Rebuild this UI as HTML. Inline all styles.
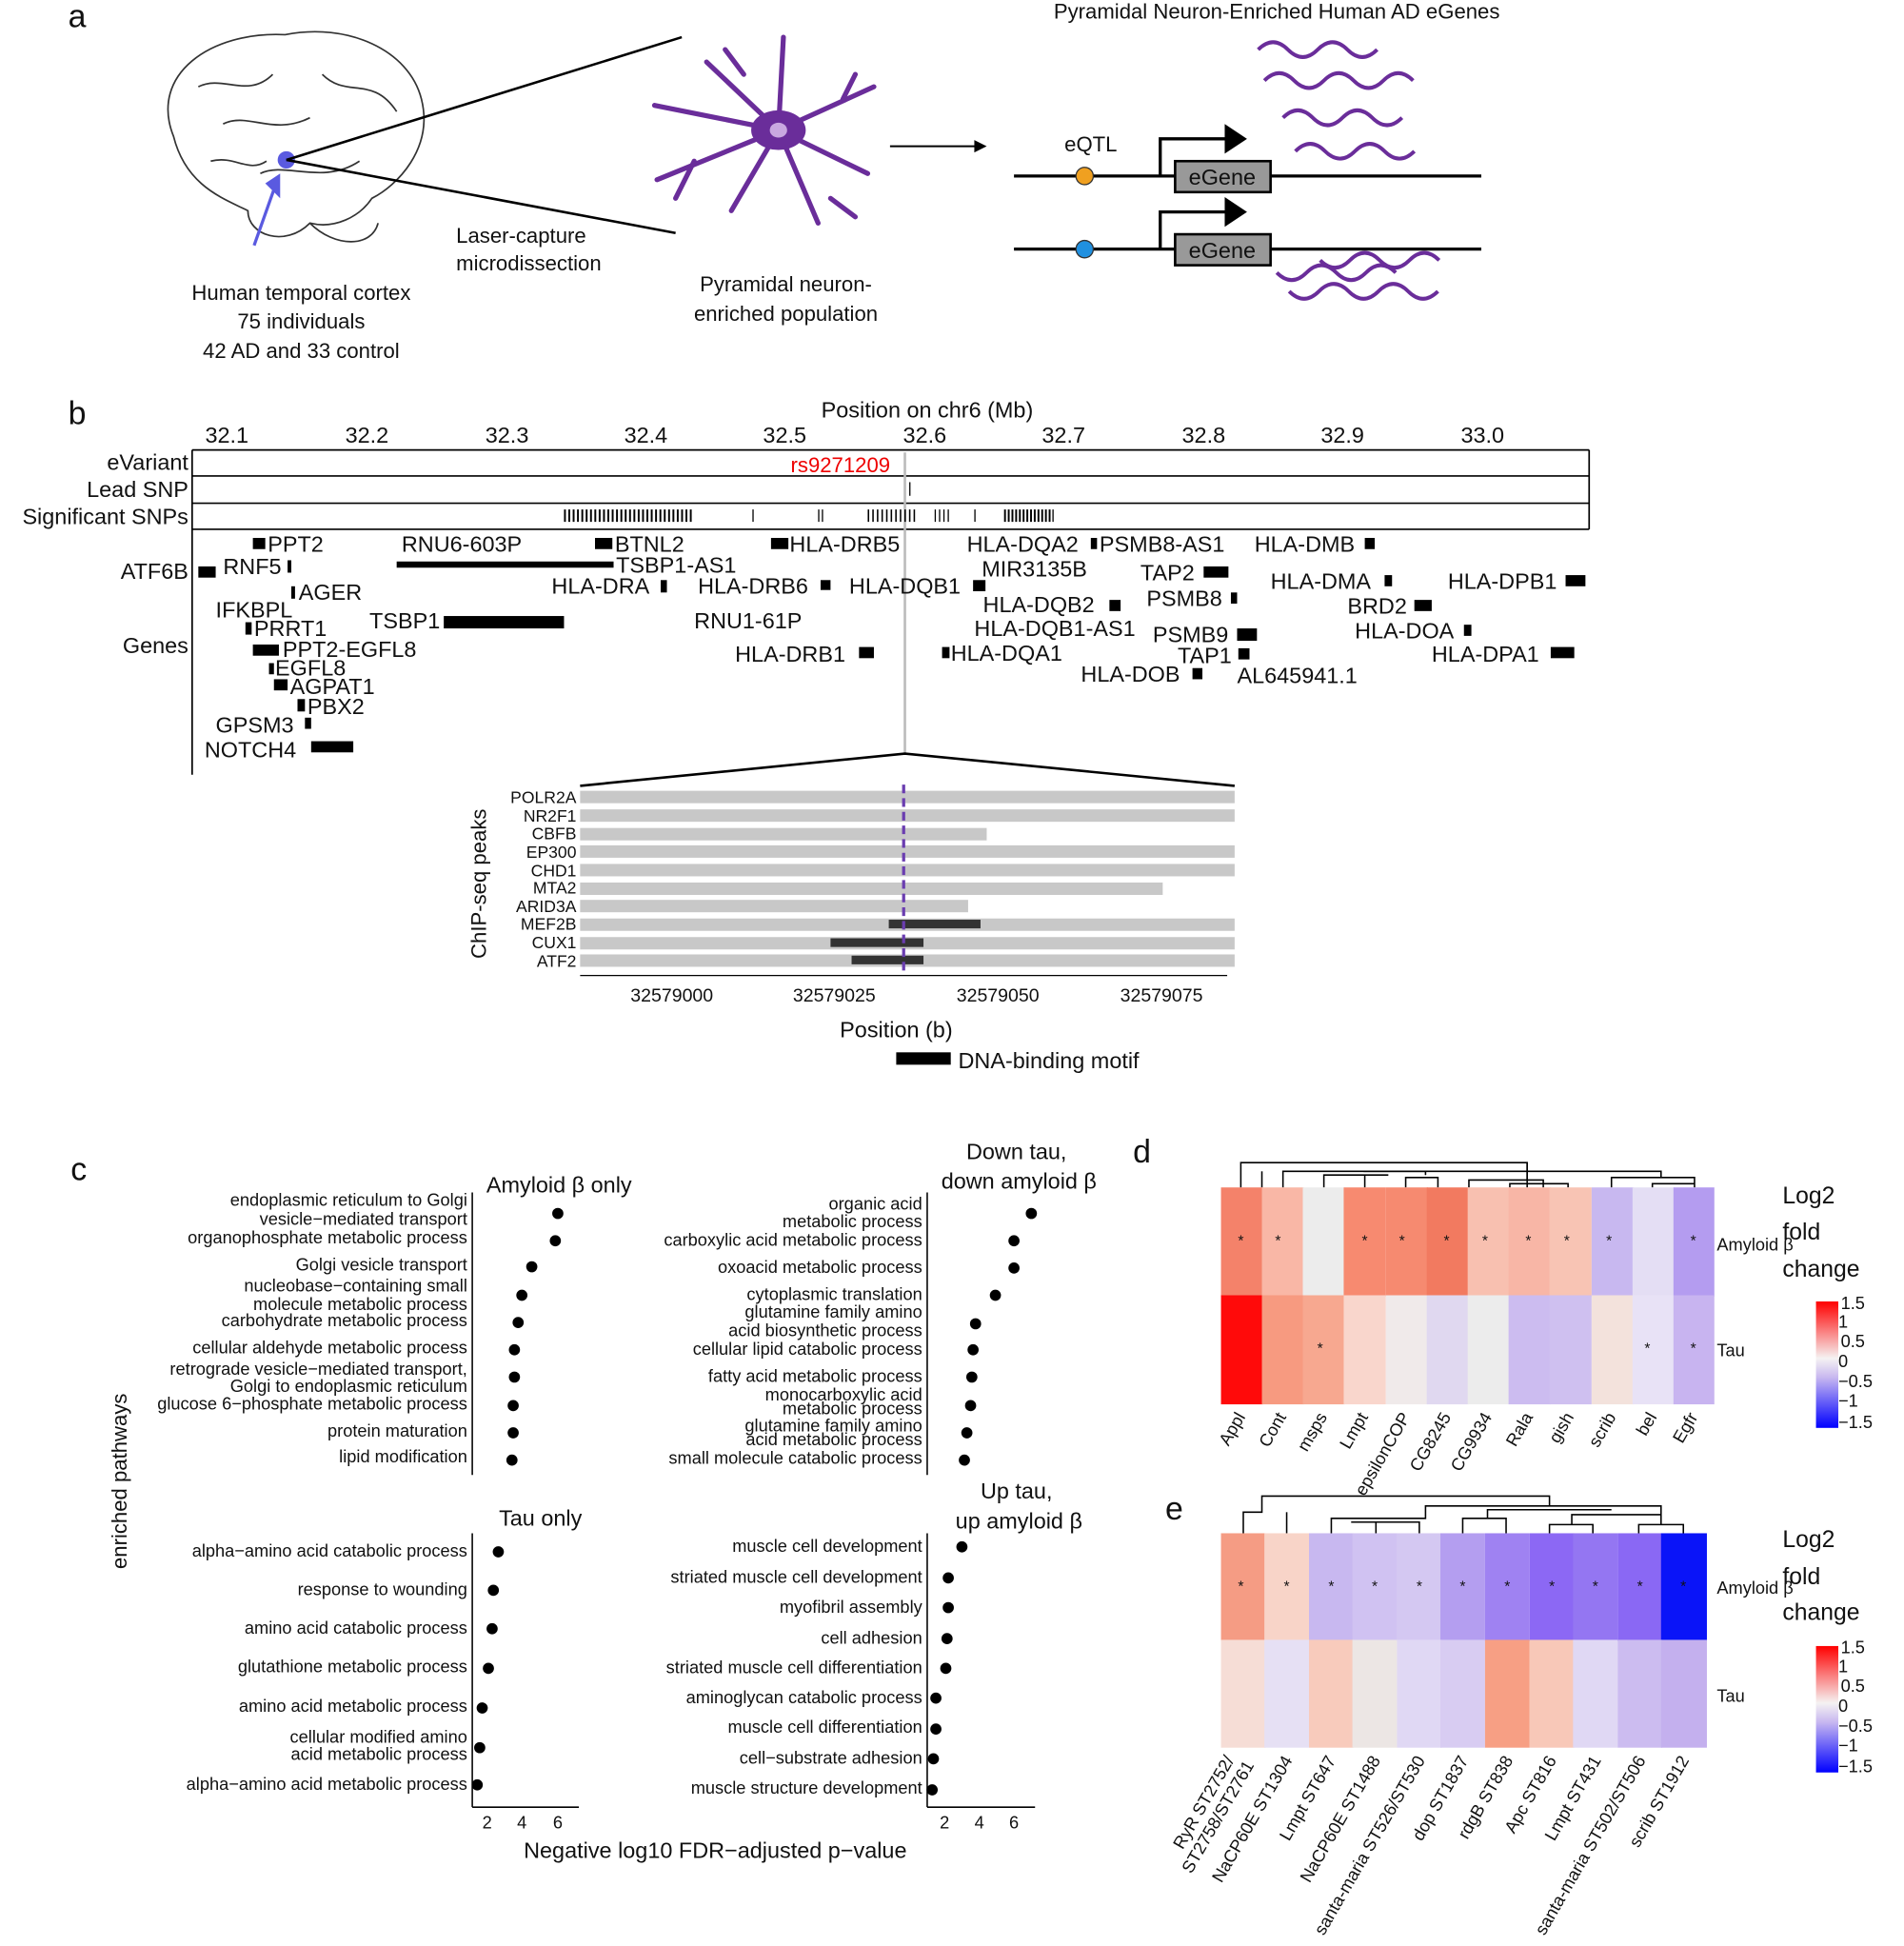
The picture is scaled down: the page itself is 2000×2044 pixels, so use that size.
<!DOCTYPE html>
<html><head><meta charset="utf-8"><style>
html,body{margin:0;padding:0;background:#fff}
svg{display:block}
text{font-family:"Liberation Sans",Arial,sans-serif;fill:#111}
.g{font-size:18px}
.c{font-size:14px;text-anchor:end}
.t{font-size:17px;text-anchor:middle}
.ax{font-size:14px;text-anchor:middle}
</style></head><body>
<svg width="2000" height="2044" viewBox="0 0 1536 1570" preserveAspectRatio="none" xmlns="http://www.w3.org/2000/svg">
<!-- panel a -->
<text x="55" y="22" style="font-size:26px">a</text>
<g fill="none" stroke="#333" stroke-width="1.3">
<path d="M140,110 C120,60 170,25 230,28 C280,18 330,40 340,80 C350,120 320,150 300,160 C290,175 270,185 250,180 C230,200 200,190 200,170 C180,160 150,150 140,110Z"/>
<path d="M250,180 C270,200 300,200 305,180"/>
<path d="M160,70 C180,60 200,80 220,60 M180,100 C200,90 220,110 250,95 M260,60 C280,80 300,60 320,90 M210,140 C230,130 260,150 290,130 M170,130 C190,125 200,140 215,130"/>
</g>
<circle cx="231" cy="129" r="7" fill="#5a5ae0"/>
<line x1="205" y1="198" x2="222" y2="150" stroke="#5a5ae0" stroke-width="2.5"/>
<polygon points="214,148 226,140 226,160" fill="#5a5ae0"/>
<line x1="231" y1="129" x2="550" y2="30" stroke="#000" stroke-width="2"/>
<line x1="231" y1="129" x2="545" y2="188" stroke="#000" stroke-width="2"/>
<text x="243" y="242" class="t">Human temporal cortex</text>
<text x="243" y="265" class="t">75 individuals</text>
<text x="243" y="289" class="t">42 AD and 33 control</text>
<text x="368" y="196" style="font-size:17px">Laser-capture</text>
<text x="368" y="218" style="font-size:17px">microdissection</text>
<g stroke="#6a2d9a" stroke-width="4" fill="none" stroke-linecap="round">
<path d="M628,105 L632,30 M628,105 L705,70 M628,105 L700,140 M628,105 L660,180 M628,105 L590,170 M628,105 L530,145 M628,105 L528,85 M628,105 L570,50"/>
<path d="M600,60 L585,40 M680,80 L690,60 M560,130 L545,160 M670,160 L690,175"/>
</g>
<ellipse cx="628" cy="105" rx="22" ry="16" fill="#6a2d9a"/>
<ellipse cx="628" cy="105" rx="7" ry="6" fill="#c9a8e0"/>
<text x="634" y="235" class="t">Pyramidal neuron-</text>
<text x="634" y="259" class="t">enriched population</text>
<line x1="718" y1="118" x2="788" y2="118" stroke="#000" stroke-width="1.5"/>
<polygon points="786,113 796,118 786,123" fill="#000"/>
<text x="1030" y="15" class="t">Pyramidal Neuron-Enriched Human AD eGenes</text>
<g stroke="#000" stroke-width="2.5" fill="none">
<line x1="818" y1="142" x2="1195" y2="142"/><line x1="818" y1="201" x2="1195" y2="201"/>
<path d="M936,142 V112 H990"/><path d="M936,201 V171 H990"/>
</g>
<polygon points="988,100 1006,112 988,124" fill="#000"/>
<polygon points="988,159 1006,171 988,183" fill="#000"/>
<rect x="948" y="130" width="77" height="25" fill="#999" stroke="#000" stroke-width="2"/>
<rect x="948" y="189" width="77" height="25" fill="#999" stroke="#000" stroke-width="2"/>
<text x="986" y="149" class="t" style="font-size:18px">eGene</text>
<text x="986" y="208" class="t" style="font-size:18px">eGene</text>
<text x="880" y="122" class="t">eQTL</text>
<circle cx="875" cy="142" r="7" fill="#f0a020" stroke="#333"/>
<circle cx="875" cy="201" r="7" fill="#2090e0" stroke="#333"/>
<g stroke="#6a2d9a" stroke-width="3" fill="none">
<path d="M1015,40 q12,-12 24,0 t24,0 t24,0 t24,0"/>
<path d="M1020,65 q12,-12 24,0 t24,0 t24,0 t24,0 t24,0"/>
<path d="M1035,95 q12,-12 24,0 t24,0 t24,0 t24,0"/>
<path d="M1045,122 q12,-12 24,0 t24,0 t24,0 t24,0"/>
<path d="M1030,220 q12,12 24,0 t24,0 t24,0 t24,0"/>
<path d="M1040,235 q12,12 24,0 t24,0 t24,0 t24,0 t24,0"/>
<path d="M1065,210 q12,12 24,0 t24,0 t24,0 t24,0"/>
</g>
<!-- panel b -->
<text x="55" y="342" style="font-size:26px">b</text>
<text x="748" y="337" class="t" style="font-size:18px">Position on chr6 (Mb)</text>
<g class="t" style="font-size:18px">
<text x="183" y="357" text-anchor="middle">32.1</text><text x="296" y="357" text-anchor="middle">32.2</text><text x="409" y="357" text-anchor="middle">32.3</text><text x="521" y="357" text-anchor="middle">32.4</text><text x="633" y="357" text-anchor="middle">32.5</text><text x="746" y="357" text-anchor="middle">32.6</text><text x="858" y="357" text-anchor="middle">32.7</text><text x="971" y="357" text-anchor="middle">32.8</text><text x="1083" y="357" text-anchor="middle">32.9</text><text x="1196" y="357" text-anchor="middle">33.0</text>
</g>
<g stroke="#000" stroke-width="1.3">
<line x1="155" y1="363" x2="155" y2="625"/>
<line x1="155" y1="363" x2="1282" y2="363"/><line x1="155" y1="384" x2="1282" y2="384"/><line x1="155" y1="406" x2="1282" y2="406"/><line x1="155" y1="427" x2="1282" y2="427"/>
<line x1="1282" y1="363" x2="1282" y2="427"/>
</g>
<line x1="730" y1="365" x2="730" y2="608" stroke="#bbb" stroke-width="2"/>
<text x="678" y="381" class="t" style="font-size:17px;fill:#e00">rs9271209</text>
<line x1="734" y1="389" x2="734" y2="400" stroke="#000"/>
<g style="font-size:18px;text-anchor:end">
<text x="152" y="379">eVariant</text><text x="152" y="401">Lead SNP</text><text x="152" y="423">Significant SNPs</text><text x="152" y="467">ATF6B</text><text x="152" y="527">Genes</text>
</g>
<g stroke="#000" stroke-width="10">
<line x1="455" y1="416" x2="558" y2="416" stroke-dasharray="1.5 2"/>
<line x1="607" y1="416" x2="609" y2="416" stroke-dasharray="1 2"/>
<line x1="660" y1="416" x2="665" y2="416" stroke-dasharray="1 2"/>
<line x1="700" y1="416" x2="740" y2="416" stroke-dasharray="1.2 2.5"/>
<line x1="754" y1="416" x2="766" y2="416" stroke-dasharray="1 2.5"/>
<line x1="786" y1="416" x2="788" y2="416" stroke-dasharray="1 2"/>
<line x1="810" y1="416" x2="850" y2="416" stroke-dasharray="1.5 1.5"/>
</g>
<g fill="#000">
<rect x="204" y="434" width="10" height="9"/><rect x="232" y="452" width="3" height="10"/><rect x="160" y="457" width="14" height="9"/><rect x="235" y="473" width="3" height="10"/><rect x="198" y="502" width="5" height="10"/><rect x="204" y="520" width="21" height="9"/><rect x="217" y="535" width="4" height="9"/><rect x="221" y="548" width="11" height="9"/><rect x="240" y="564" width="6" height="10"/><rect x="246" y="579" width="5" height="9"/><rect x="251" y="598" width="34" height="9"/>
<rect x="320" y="453" width="175" height="5"/><rect x="480" y="434" width="14" height="9"/><rect x="533" y="468" width="5" height="10"/><rect x="358" y="497" width="97" height="10"/>
<rect x="622" y="434" width="14" height="9"/><rect x="662" y="468" width="8" height="8"/><rect x="693" y="522" width="12" height="9"/><rect x="785" y="468" width="10" height="9"/>
<rect x="880" y="434" width="5" height="9"/><rect x="895" y="484" width="9" height="9"/><rect x="760" y="522" width="6" height="9"/><rect x="998" y="507" width="16" height="10"/><rect x="971" y="457" width="20" height="9"/><rect x="993" y="478" width="5" height="9"/><rect x="999" y="523" width="9" height="9"/><rect x="962" y="539" width="8" height="9"/>
<rect x="1101" y="434" width="8" height="9"/><rect x="1117" y="464" width="6" height="9"/><rect x="1141" y="484" width="14" height="9"/><rect x="1181" y="504" width="6" height="9"/><rect x="1263" y="464" width="16" height="9"/><rect x="1251" y="522" width="19" height="9"/>
</g>
<g class="g">
<text x="216" y="445">PPT2</text><text x="180" y="463">RNF5</text><text x="241" y="484">AGER</text><text x="174" y="498">IFKBPL</text><text x="205" y="513">PRRT1</text><text x="228" y="530">PPT2-EGFL8</text><text x="222" y="545">EGFL8</text><text x="234" y="560">AGPAT1</text><text x="248" y="576">PBX2</text><text x="174" y="591">GPSM3</text><text x="165" y="611">NOTCH4</text>
<text x="324" y="445">RNU6-603P</text><text x="496" y="445">BTNL2</text><text x="497" y="462">TSBP1-AS1</text><text x="445" y="479">HLA-DRA</text><text x="298" y="507">TSBP1</text>
<text x="637" y="445">HLA-DRB5</text><text x="563" y="479">HLA-DRB6</text><text x="560" y="507">RNU1-61P</text><text x="593" y="534">HLA-DRB1</text><text x="685" y="479">HLA-DQB1</text>
<text x="780" y="445">HLA-DQA2</text><text x="887" y="445">PSMB8-AS1</text><text x="792" y="465">MIR3135B</text><text x="793" y="494">HLA-DQB2</text><text x="786" y="513">HLA-DQB1-AS1</text><text x="767" y="533">HLA-DQA1</text><text x="930" y="518">PSMB9</text><text x="920" y="468">TAP2</text><text x="925" y="489">PSMB8</text><text x="950" y="535">TAP1</text><text x="872" y="550">HLA-DOB</text><text x="998" y="551">AL645941.1</text>
<text x="1012" y="445">HLA-DMB</text><text x="1025" y="475">HLA-DMA</text><text x="1087" y="495">BRD2</text><text x="1093" y="515">HLA-DOA</text><text x="1168" y="475">HLA-DPB1</text><text x="1155" y="534">HLA-DPA1</text>
</g>
<polyline points="468,634 730,608 996,634" fill="none" stroke="#000" stroke-width="2"/>
<g fill="#c8c8c8">
<rect x="468" y="638" width="528" height="10"/><rect x="468" y="653" width="528" height="10"/><rect x="468" y="668" width="328" height="10"/><rect x="468" y="682" width="528" height="10"/><rect x="468" y="697" width="528" height="10"/><rect x="468" y="712" width="470" height="10"/><rect x="468" y="726" width="313" height="10"/><rect x="468" y="741" width="528" height="10"/><rect x="468" y="756" width="528" height="10"/><rect x="468" y="770" width="528" height="10"/>
</g>
<g fill="#333"><rect x="717" y="742" width="74" height="7"/><rect x="670" y="757" width="75" height="7"/><rect x="687" y="771" width="58" height="7"/></g>
<line x1="729" y1="633" x2="729" y2="785" stroke="#6a3db0" stroke-width="2.5" stroke-dasharray="7 4"/>
<g style="font-size:13.5px;text-anchor:end">
<text x="465" y="648">POLR2A</text><text x="465" y="663">NR2F1</text><text x="465" y="677">CBFB</text><text x="465" y="692">EP300</text><text x="465" y="707">CHD1</text><text x="465" y="721">MTA2</text><text x="465" y="736">ARID3A</text><text x="465" y="750">MEF2B</text><text x="465" y="765">CUX1</text><text x="465" y="780">ATF2</text>
</g>
<text transform="translate(392,713) rotate(-90)" class="t">ChIP-seq peaks</text>
<line x1="468" y1="787" x2="990" y2="787" stroke="#000"/>
<g class="ax" style="font-size:15px"><text x="542" y="808">32579000</text><text x="673" y="808">32579025</text><text x="805" y="808">32579050</text><text x="937" y="808">32579075</text></g>
<text x="723" y="837" class="t" style="font-size:18px">Position (b)</text>
<rect x="723" y="849" width="44" height="10" fill="#000"/>
<text x="773" y="862" style="font-size:18px">DNA-binding motif</text>
<!-- panel c -->
<text x="57" y="952" style="font-size:26px">c</text>
<text transform="translate(102,1195) rotate(-90)" class="t">enriched pathways</text>
<g stroke="#000" stroke-width="1.2">
<line x1="381" y1="962" x2="381" y2="1190"/><line x1="748" y1="962" x2="748" y2="1190"/>
<line x1="381" y1="1237" x2="381" y2="1458"/><line x1="748" y1="1237" x2="748" y2="1458"/>
<line x1="381" y1="1458" x2="467" y2="1458"/><line x1="748" y1="1458" x2="835" y2="1458"/>
</g>
<g class="ax"><text x="393" y="1475">2</text><text x="421" y="1475">4</text><text x="450" y="1475">6</text><text x="762" y="1475">2</text><text x="790" y="1475">4</text><text x="818" y="1475">6</text></g>
<text x="577" y="1499" class="t" style="font-size:18px">Negative log10 FDR−adjusted p−value</text>
<text x="451" y="962" class="t" style="font-size:18px">Amyloid β only</text>
<text x="436" y="1231" class="t" style="font-size:18px">Tau only</text>
<text x="820" y="935" class="t" style="font-size:18px">Down tau,</text><text x="822" y="959" class="t" style="font-size:18px">down amyloid β</text>
<text x="820" y="1209" class="t" style="font-size:18px">Up tau,</text><text x="822" y="1233" class="t" style="font-size:18px">up amyloid β</text>
<g class="c">
<text x="377" y="973">endoplasmic reticulum to Golgi</text><text x="377" y="988">vesicle−mediated transport</text><text x="377" y="1003">organophosphate metabolic process</text><text x="377" y="1025">Golgi vesicle transport</text><text x="377" y="1042">nucleobase−containing small</text><text x="377" y="1057">molecule metabolic process</text><text x="377" y="1070">carbohydrate metabolic process</text><text x="377" y="1092">cellular aldehyde metabolic process</text><text x="377" y="1109">retrograde vesicle−mediated transport,</text><text x="377" y="1123">Golgi to endoplasmic reticulum</text><text x="377" y="1137">glucose 6−phosphate metabolic process</text><text x="377" y="1159">protein maturation</text><text x="377" y="1180">lipid modification</text>
<text x="377" y="1256">alpha−amino acid catabolic process</text><text x="377" y="1287">response to wounding</text><text x="377" y="1318">amino acid catabolic process</text><text x="377" y="1349">glutathione metabolic process</text><text x="377" y="1381">amino acid metabolic process</text><text x="377" y="1406">cellular modified amino</text><text x="377" y="1420">acid metabolic process</text><text x="377" y="1444">alpha−amino acid metabolic process</text>
<text x="744" y="976">organic acid</text><text x="744" y="990">metabolic process</text><text x="744" y="1005">carboxylic acid metabolic process</text><text x="744" y="1027">oxoacid metabolic process</text><text x="744" y="1049">cytoplasmic translation</text><text x="744" y="1063">glutamine family amino</text><text x="744" y="1078">acid biosynthetic process</text><text x="744" y="1093">cellular lipid catabolic process</text><text x="744" y="1115">fatty acid metabolic process</text><text x="744" y="1130">monocarboxylic acid</text><text x="744" y="1141">metabolic process</text><text x="744" y="1155">glutamine family amino</text><text x="744" y="1166">acid metabolic process</text><text x="744" y="1181">small molecule catabolic process</text>
<text x="744" y="1252">muscle cell development</text><text x="744" y="1277">striated muscle cell development</text><text x="744" y="1301">myofibril assembly</text><text x="744" y="1326">cell adhesion</text><text x="744" y="1350">striated muscle cell differentiation</text><text x="744" y="1374">aminoglycan catabolic process</text><text x="744" y="1398">muscle cell differentiation</text><text x="744" y="1423">cell−substrate adhesion</text><text x="744" y="1447">muscle structure development</text>
</g>
<g fill="#000">
<circle cx="450" cy="979" r="4.5"/><circle cx="448" cy="1001" r="4.5"/><circle cx="429" cy="1022" r="4.5"/><circle cx="421" cy="1045" r="4.5"/><circle cx="418" cy="1067" r="4.5"/><circle cx="415" cy="1089" r="4.5"/><circle cx="415" cy="1111" r="4.5"/><circle cx="414" cy="1134" r="4.5"/><circle cx="414" cy="1156" r="4.5"/><circle cx="413" cy="1178" r="4.5"/>
<circle cx="402" cy="1252" r="4.5"/><circle cx="398" cy="1283" r="4.5"/><circle cx="397" cy="1314" r="4.5"/><circle cx="394" cy="1346" r="4.5"/><circle cx="389" cy="1378" r="4.5"/><circle cx="387" cy="1410" r="4.5"/><circle cx="385" cy="1440" r="4.5"/>
<circle cx="832" cy="979" r="4.5"/><circle cx="818" cy="1001" r="4.5"/><circle cx="818" cy="1023" r="4.5"/><circle cx="803" cy="1045" r="4.5"/><circle cx="787" cy="1068" r="4.5"/><circle cx="785" cy="1089" r="4.5"/><circle cx="784" cy="1111" r="4.5"/><circle cx="783" cy="1134" r="4.5"/><circle cx="780" cy="1156" r="4.5"/><circle cx="778" cy="1178" r="4.5"/>
<circle cx="776" cy="1248" r="4.5"/><circle cx="765" cy="1273" r="4.5"/><circle cx="765" cy="1297" r="4.5"/><circle cx="764" cy="1322" r="4.5"/><circle cx="763" cy="1346" r="4.5"/><circle cx="755" cy="1370" r="4.5"/><circle cx="755" cy="1395" r="4.5"/><circle cx="753" cy="1419" r="4.5"/><circle cx="752" cy="1444" r="4.5"/>
</g>
<!-- panel d -->
<text x="914" y="938" style="font-size:26px">d</text>
<g fill="none" stroke="#000" stroke-width="1.2">
<path d="M1001,958 V938 H1232 V958"/><path d="M1035,958 V945 H1150"/><path d="M1068,958 V948 H1120 M1101,958 V948 M1134,958 V950 H1160 V958 M1185,958 V952 H1245 V958 M1218,958 V955 H1265 V958 M1300,958 V950 H1367 V958 M1333,958 V955 H1367"/>
<path d="M1018,945 V958"/><path d="M1150,945 V948 M1232,938 V952 M1245,952 M1340,950 V945 H1100"/>
</g>
<g>
<rect x="985" y="958" width="34" height="88" fill="#f4826a"/><rect x="1018" y="958" width="34" height="88" fill="#f9b7a6"/><rect x="1051" y="958" width="34" height="88" fill="#ececec"/><rect x="1084" y="958" width="34" height="88" fill="#f78a70"/><rect x="1118" y="958" width="34" height="88" fill="#f68a70"/><rect x="1151" y="958" width="34" height="88" fill="#f27a60"/><rect x="1184" y="958" width="34" height="88" fill="#f8c0b0"/><rect x="1217" y="958" width="34" height="88" fill="#f8b6a6"/><rect x="1250" y="958" width="34" height="88" fill="#f8c4b4"/><rect x="1284" y="958" width="34" height="88" fill="#c8b8f0"/><rect x="1317" y="958" width="34" height="88" fill="#e4def4"/><rect x="1350" y="958" width="33" height="88" fill="#b49cf0"/>
<rect x="985" y="1045" width="34" height="88" fill="#ff0a0a"/><rect x="1018" y="1045" width="34" height="88" fill="#f79a80"/><rect x="1051" y="1045" width="34" height="88" fill="#f7a890"/><rect x="1084" y="1045" width="34" height="88" fill="#f9d6cc"/><rect x="1118" y="1045" width="34" height="88" fill="#f0eaea"/><rect x="1151" y="1045" width="34" height="88" fill="#e0d8f0"/><rect x="1184" y="1045" width="34" height="88" fill="#ececec"/><rect x="1217" y="1045" width="34" height="88" fill="#ccbcf0"/><rect x="1250" y="1045" width="34" height="88" fill="#cfc0f0"/><rect x="1284" y="1045" width="34" height="88" fill="#f3e2dc"/><rect x="1317" y="1045" width="34" height="88" fill="#e8e2f6"/><rect x="1350" y="1045" width="33" height="88" fill="#c8b4f0"/>
</g>
<g class="ax" style="font-size:12px">
<text x="1001" y="1005">*</text><text x="1031" y="1005">*</text><text x="1101" y="1005">*</text><text x="1131" y="1005">*</text><text x="1167" y="1005">*</text><text x="1198" y="1005">*</text><text x="1233" y="1005">*</text><text x="1264" y="1005">*</text><text x="1298" y="1005">*</text><text x="1366" y="1005">*</text>
<text x="1065" y="1092">*</text><text x="1329" y="1092">*</text><text x="1366" y="1092">*</text>
</g>
<text x="1385" y="1009" style="font-size:14px">Amyloid β</text><text x="1385" y="1094" style="font-size:14px">Tau</text>
<g style="font-size:14px;text-anchor:end">
<text transform="translate(1005,1143) rotate(-60)">Appl</text><text transform="translate(1038,1143) rotate(-60)">Cont</text><text transform="translate(1071,1143) rotate(-60)">msps</text><text transform="translate(1104,1143) rotate(-60)">Lmpt</text><text transform="translate(1138,1143) rotate(-60)">epsilonCOP</text><text transform="translate(1171,1143) rotate(-60)">CG8245</text><text transform="translate(1204,1143) rotate(-60)">CG9934</text><text transform="translate(1237,1143) rotate(-60)">Rala</text><text transform="translate(1270,1143) rotate(-60)">gish</text><text transform="translate(1304,1143) rotate(-60)">scrib</text><text transform="translate(1337,1143) rotate(-60)">bel</text><text transform="translate(1370,1143) rotate(-60)">Egfr</text>
</g>
<defs><linearGradient id="lg" x1="0" y1="0" x2="0" y2="1"><stop offset="0" stop-color="#ff0000"/><stop offset="0.45" stop-color="#f5f2f2"/><stop offset="0.6" stop-color="#c8b8f0"/><stop offset="1" stop-color="#0000ff"/></linearGradient></defs>
<text x="1438" y="971" style="font-size:19px">Log2</text><text x="1438" y="1000" style="font-size:19px">fold</text><text x="1438" y="1030" style="font-size:19px">change</text>
<rect x="1465" y="1050" width="18" height="102" fill="url(#lg)"/>
<g style="font-size:14px"><text x="1485" y="1056">1.5</text><text x="1483" y="1071">1</text><text x="1485" y="1087">0.5</text><text x="1483" y="1103">0</text><text x="1483" y="1119">−0.5</text><text x="1483" y="1135">−1</text><text x="1483" y="1152">−1.5</text></g>
<!-- panel e -->
<text x="940" y="1226" style="font-size:26px">e</text>
<g fill="none" stroke="#000" stroke-width="1.2">
<path d="M1003,1237 V1220 H1018 V1207 H1250 V1215"/><path d="M1038,1237 V1220"/><path d="M1074,1237 V1225 H1150 V1215 H1340 V1222 M1110,1237 V1228 H1090 M1145,1237 V1228 H1110 M1180,1237 V1225 H1215 V1237 M1200,1225 V1218 H1300 M1250,1237 V1230 H1285 V1237 M1268,1230 V1222 H1340 M1322,1237 V1230 H1358 V1237 M1340,1230 V1222"/>
</g>
<g>
<rect x="985" y="1237" width="36" height="87" fill="#f59c84"/><rect x="1020" y="1237" width="36" height="87" fill="#f8d4c8"/><rect x="1056" y="1237" width="36" height="87" fill="#c8b8f0"/><rect x="1091" y="1237" width="36" height="87" fill="#d0c2f2"/><rect x="1127" y="1237" width="36" height="87" fill="#d4c8f2"/><rect x="1162" y="1237" width="36" height="87" fill="#b49ef0"/><rect x="1198" y="1237" width="36" height="87" fill="#9f82f2"/><rect x="1234" y="1237" width="36" height="87" fill="#8c68f4"/><rect x="1269" y="1237" width="36" height="87" fill="#9476f2"/><rect x="1305" y="1237" width="36" height="87" fill="#8a68f4"/><rect x="1340" y="1237" width="37" height="87" fill="#0a14f8"/>
<rect x="985" y="1323" width="36" height="87" fill="#f6ddd6"/><rect x="1020" y="1323" width="36" height="87" fill="#e6e0f4"/><rect x="1056" y="1323" width="36" height="87" fill="#f8cbbc"/><rect x="1091" y="1323" width="36" height="87" fill="#ece6e4"/><rect x="1127" y="1323" width="36" height="87" fill="#e0d8f4"/><rect x="1162" y="1323" width="36" height="87" fill="#d8ccf2"/><rect x="1198" y="1323" width="36" height="87" fill="#f79f84"/><rect x="1234" y="1323" width="36" height="87" fill="#f8c8b8"/><rect x="1269" y="1323" width="36" height="87" fill="#e0d8f4"/><rect x="1305" y="1323" width="36" height="87" fill="#ccbcf0"/><rect x="1340" y="1323" width="37" height="87" fill="#c4b0ee"/>
</g>
<g class="ax" style="font-size:12px">
<text x="1001" y="1284">*</text><text x="1038" y="1284">*</text><text x="1074" y="1284">*</text><text x="1109" y="1284">*</text><text x="1145" y="1284">*</text><text x="1180" y="1284">*</text><text x="1216" y="1284">*</text><text x="1252" y="1284">*</text><text x="1287" y="1284">*</text><text x="1323" y="1284">*</text><text x="1358" y="1284">*</text>
</g>
<text x="1385" y="1286" style="font-size:14px">Amyloid β</text><text x="1385" y="1373" style="font-size:14px">Tau</text>
<g style="font-size:14px;text-anchor:end">
<text transform="translate(996,1420) rotate(-60)">RyR ST2752/</text><text transform="translate(1012,1424) rotate(-60)">ST2758/ST2761</text><text transform="translate(1043,1420) rotate(-60)">NaCP60E ST1304</text><text transform="translate(1078,1420) rotate(-60)">Lmpt ST647</text><text transform="translate(1114,1420) rotate(-60)">NaCP60E ST1488</text><text transform="translate(1150,1420) rotate(-60)">santa-maria ST526/ST530</text><text transform="translate(1185,1420) rotate(-60)">dop ST1837</text><text transform="translate(1221,1420) rotate(-60)">rdgB ST838</text><text transform="translate(1256,1420) rotate(-60)">Apc ST816</text><text transform="translate(1292,1420) rotate(-60)">Lmpt ST431</text><text transform="translate(1328,1420) rotate(-60)">santa-maria ST502/ST506</text><text transform="translate(1363,1420) rotate(-60)">scrib ST1912</text>
</g>
<text x="1438" y="1248" style="font-size:19px">Log2</text><text x="1438" y="1278" style="font-size:19px">fold</text><text x="1438" y="1307" style="font-size:19px">change</text>
<rect x="1465" y="1328" width="18" height="102" fill="url(#lg)"/>
<g style="font-size:14px"><text x="1485" y="1334">1.5</text><text x="1483" y="1349">1</text><text x="1485" y="1365">0.5</text><text x="1483" y="1381">0</text><text x="1483" y="1397">−0.5</text><text x="1483" y="1413">−1</text><text x="1483" y="1430">−1.5</text></g>
</svg>
</body></html>
